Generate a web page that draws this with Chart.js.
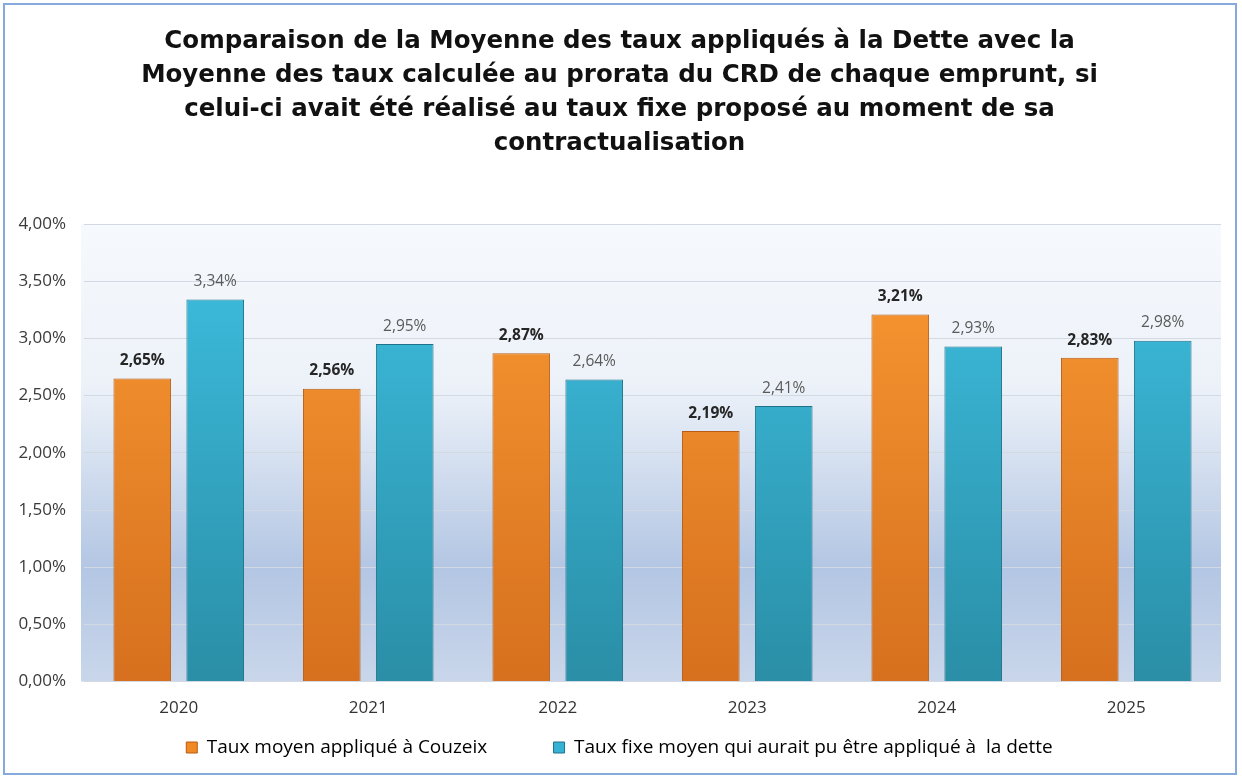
<!DOCTYPE html>
<html>
<head>
<meta charset="utf-8">
<script src="https://cdn.jsdelivr.net/npm/chart.js@4"></script>
<style>
  html, body { margin: 0; padding: 0; background: #fff; }
  #wrap {
    position: absolute; left: 3px; top: 3px;
    width: 1234px; height: 772px;
    border: 2px solid #86aadb;
    box-sizing: border-box;
  }
  canvas { position: absolute; left: 0; top: 0; }
</style>
</head>
<body>
<div id="wrap"><canvas id="chart" width="1230" height="768"></canvas></div>
<script>
'use strict';

const years = ['2020', '2021', '2022', '2023', '2024', '2025'];
const tauxCouzeix = [2.65, 2.56, 2.87, 2.19, 3.21, 2.83];
const tauxFixe = [3.34, 2.95, 2.64, 2.41, 2.93, 2.98];
const seriesNames = ['Taux moyen appliqué à Couzeix', 'Taux fixe moyen qui aurait pu être appliqué à  la dette'];
const titleLines = [
    'Comparaison de la Moyenne des taux appliqués à la Dette avec la',
    'Moyenne des taux calculée au prorata du CRD de chaque emprunt, si',
    'celui-ci avait été réalisé au taux fixe proposé au moment de sa',
    'contractualisation'
];

const fmt = v => v.toFixed(2).replace('.', ',') + '%';

function barGradient(ctx, top, bottom) {
    const area = ctx.chart.chartArea;
    if (!area) return top;
    const g = ctx.chart.ctx.createLinearGradient(0, area.top, 0, area.bottom);
    g.addColorStop(0, top);
    g.addColorStop(1, bottom);
    return g;
}

// background of the plot area
const plotBg = {
    id: 'plotBg',
    beforeDraw(chart) {
        const { ctx, chartArea: a } = chart;
        const g = ctx.createLinearGradient(0, a.top, 0, a.bottom);
        g.addColorStop(0, '#f6f9fd');
        g.addColorStop(0.35, '#edf2f9');
        g.addColorStop(0.75, '#b3c6e3');
        g.addColorStop(1, '#c9d6ea');
        ctx.save();
        ctx.fillStyle = g;
        ctx.fillRect(a.left - 3, a.top, a.right - a.left + 3, a.bottom - a.top);
        ctx.restore();
    }
};

// value labels above each bar
const valueLabels = {
    id: 'valueLabels',
    afterDatasetsDraw(chart) {
        const ctx = chart.ctx;
        ctx.save();
        ctx.textAlign = 'center';
        ctx.textBaseline = 'bottom';
        chart.data.datasets.forEach((ds, i) => {
            const meta = chart.getDatasetMeta(i);
            ctx.font = (i === 0 ? 'bold ' : '') + '15.5px "Open Sans"';
            ctx.fillStyle = i === 0 ? '#262626' : '#5a5a5a';
            meta.data.forEach((bar, j) => {
                ctx.fillText(fmt(ds.data[j]), bar.x, bar.y - 10);
            });
        });
        ctx.restore();
    }
};

new Chart(document.getElementById('chart'), {
    type: 'bar',
    data: {
        labels: years,
        datasets: [{
            label: seriesNames[0],
            data: tauxCouzeix,
            backgroundColor: ctx => barGradient(ctx, '#fa9a33', '#d6701e'),
            borderColor: '#b85c14',
            borderWidth: 1,
            categoryPercentage: 0.77,
            barPercentage: 0.79
        }, {
            label: seriesNames[1],
            data: tauxFixe,
            backgroundColor: ctx => barGradient(ctx, '#3ec0e2', '#2a8ea6'),
            borderColor: '#1f7388',
            borderWidth: 1,
            categoryPercentage: 0.77,
            barPercentage: 0.79
        }]
    },
    options: {
        responsive: false,
        animation: false,
        layout: { padding: { left: 13, right: 14, top: 20, bottom: 6 } },
        plugins: {
            title: {
                display: true,
                text: titleLines,
                color: '#111',
                font: { family: 'DejaVu Sans', weight: 'bold', size: 24.5, lineHeight: 34 / 24.5 },
                padding: { top: 0, bottom: 63 }
            },
            legend: {
                position: 'bottom',
                labels: {
                    color: '#333',
                    font: { family: 'Open Sans', size: 19 },
                    boxWidth: 11,
                    boxHeight: 11,
                    padding: 12,
                    generateLabels: chart => seriesNames.map((name, i) => ({
                        text: i === 0 ? name + '\u00a0'.repeat(11) : name,
                        fillStyle: i === 0 ? '#f08a26' : '#36b2d4',
                        strokeStyle: i === 0 ? '#b85c14' : '#1f7388',
                        lineWidth: 1,
                        datasetIndex: i
                    }))
                }
            },
            tooltip: { enabled: false }
        },
        scales: {
            x: {
                grid: { display: false },
                border: { display: false },
                ticks: { color: '#333', font: { family: 'Open Sans', size: 17 }, padding: 8 }
            },
            y: {
                min: 0,
                max: 4,
                afterFit: scale => { scale.width = 66; },
                ticks: {
                    stepSize: 0.5,
                    color: '#3a3a3a',
                    font: { family: 'Open Sans', size: 17 },
                    padding: 18,
                    callback: v => fmt(v)
                },
                grid: { color: '#d3d9e2', lineWidth: 1, drawTicks: false },
                border: { display: false }
            }
        }
    },
    plugins: [plotBg, valueLabels]
});
</script>
</body>
</html>
